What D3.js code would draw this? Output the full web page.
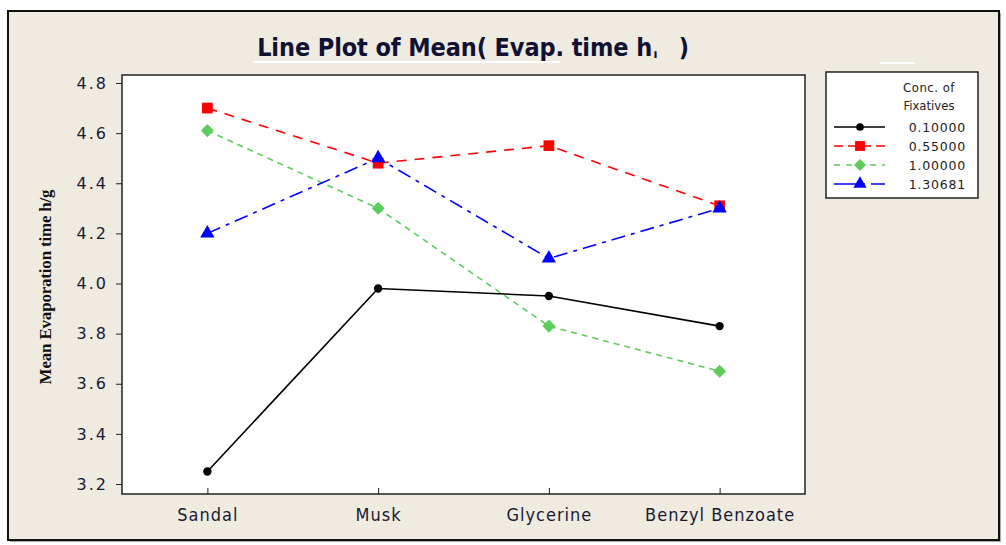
<!DOCTYPE html>
<html>
<head>
<meta charset="utf-8">
<script src="https://cdn.jsdelivr.net/npm/d3@7"></script>
<style>
  html, body { margin: 0; padding: 0; background: #fff; }
  svg { display: block; }
</style>
</head>
<body>
<div id="chart"></div>
<script>
// categories and series
const fixatives = ["Sandal", "Musk", "Glycerine", "Benzyl Benzoate"];
const concLevels = ["0.10000", "0.55000", "1.00000", "1.30681"];
const conc010 = [3.25, 3.98, 3.95, 3.83];
const conc055 = [4.70, 4.48, 4.55, 4.31];
const conc100 = [4.61, 4.30, 3.83, 3.65];
const conc131 = [4.20, 4.50, 4.10, 4.30];
const yTicks = [3.2, 3.4, 3.6, 3.8, 4.0, 4.2, 4.4, 4.6, 4.8];

const width = 1006, height = 545;
const plot = { left: 122, top: 75, right: 805, bottom: 494 };

// diamond = square turned by 45deg (d3's diamond is too narrow)
const series = [
    { name: concLevels[0], values: conc010, color: "#000000", dash: null, legendDash: null, shape: d3.symbolCircle, size: 55, rot: 0 },
    { name: concLevels[1], values: conc055, color: "#ff0000", dash: "10,8", legendDash: "9,5", shape: d3.symbolSquare, size: 115, rot: 0 },
    { name: concLevels[2], values: conc100, color: "#5ccc5c", dash: "6,5", legendDash: "6,6", shape: d3.symbolSquare, size: 85, rot: 45 },
    { name: concLevels[3], values: conc131, color: "#0000ff", dash: "14,6,4,6", legendDash: "22,5,4,6", shape: d3.symbolTriangle, size: 90, rot: 0 }
];

const svg = d3.select("#chart").append("svg")
    .attr("width", width)
    .attr("height", height);

// outer frame
svg.append("rect")
    .attr("x", 10).attr("y", 13).attr("width", 991).attr("height", 529)
    .attr("fill", "#a8a8a8");
svg.append("rect")
    .attr("x", 8).attr("y", 11).attr("width", 991).attr("height", 529)
    .attr("fill", "#efebe1").attr("stroke", "#111").attr("stroke-width", 2);

// title
svg.append("text")
    .attr("x", 473).attr("y", 56)
    .attr("text-anchor", "middle")
    .style("font", "bold 25px 'DejaVu Sans Condensed', 'DejaVu Sans', sans-serif")
    .style("letter-spacing", "-0.1px")
    .attr("fill", "#111133")
    .text("Line Plot of Mean( Evap. time h\u02cc \u2009 )");
svg.append("line")
    .attr("x1", 253).attr("x2", 560).attr("y1", 62).attr("y2", 62)
    .attr("stroke", "#fff").attr("stroke-width", 2);
svg.append("line")
    .attr("x1", 880).attr("x2", 915).attr("y1", 63).attr("y2", 63)
    .attr("stroke", "#fff").attr("stroke-width", 2);

// plot box
svg.append("rect")
    .attr("x", plot.left).attr("y", plot.top)
    .attr("width", plot.right - plot.left).attr("height", plot.bottom - plot.top)
    .attr("fill", "#fff").attr("stroke", "#222").attr("stroke-width", 1.5);

const x = d3.scalePoint()
    .domain(fixatives)
    .range([plot.left, plot.right])
    .padding(0.5);

const y = d3.scaleLinear()
    .domain([3.2, 4.8])
    .range([484, 83]);

const xAxis = svg.append("g")
    .attr("transform", `translate(0,${plot.bottom})`)
    .call(d3.axisBottom(x).tickSize(6).tickPadding(8));
xAxis.select(".domain").remove();
xAxis.selectAll("line").attr("stroke", "#222").attr("transform", "translate(0,-6)");
xAxis.selectAll("text")
    .style("font", "18px 'DejaVu Sans Condensed', 'DejaVu Sans', sans-serif")
    .style("letter-spacing", "1px")
    .attr("fill", "#1a1a33");

const yAxis = svg.append("g")
    .attr("transform", `translate(${plot.left},0)`)
    .call(d3.axisLeft(y).tickValues(yTicks).tickFormat(d3.format(".1f")).tickSize(6).tickPadding(8));
yAxis.select(".domain").remove();
yAxis.selectAll("line").attr("stroke", "#222");
yAxis.selectAll("text")
    .style("font", "16px 'DejaVu Sans', sans-serif")
    .style("letter-spacing", "2px")
    .attr("fill", "#1a1a33");

// y label
svg.append("text")
    .attr("transform", "translate(51,287) rotate(-90)")
    .attr("text-anchor", "middle")
    .style("font", "bold 17px 'Liberation Serif', serif")
    .style("letter-spacing", "-0.2px")
    .attr("fill", "#111")
    .text("Mean Evaporation time h/g");

// lines and markers
const line = d3.line()
    .x((d, i) => x(fixatives[i]))
    .y(d => y(d));

series.forEach(s => {
    svg.append("path")
        .datum(s.values)
        .attr("d", line)
        .attr("fill", "none")
        .attr("stroke", s.color)
        .attr("stroke-width", 1.6)
        .attr("stroke-dasharray", s.dash);
    svg.append("g")
        .selectAll("path")
        .data(s.values)
        .join("path")
        .attr("transform", (d, i) => `translate(${x(fixatives[i])},${y(d)}) rotate(${s.rot})`)
        .attr("d", d3.symbol().type(s.shape).size(s.size))
        .attr("fill", s.color);
});

// legend
const legend = svg.append("g");
legend.append("rect")
    .attr("x", 826).attr("y", 72).attr("width", 152).attr("height", 126)
    .attr("fill", "#fff").attr("stroke", "#222").attr("stroke-width", 1.5);
legend.append("text")
    .attr("x", 929).attr("y", 92).attr("text-anchor", "middle")
    .style("font", "13px 'DejaVu Sans Condensed', 'DejaVu Sans', sans-serif")
    .style("letter-spacing", "0.5px")
    .attr("fill", "#222").text("Conc. of");
legend.append("text")
    .attr("x", 929).attr("y", 110).attr("text-anchor", "middle")
    .style("font", "13px 'DejaVu Sans Condensed', 'DejaVu Sans', sans-serif")
    .attr("fill", "#222").text("Fixatives");

const legendY = d3.scalePoint().domain(concLevels).range([127, 184]);
series.forEach(s => {
    const ly = legendY(s.name);
    legend.append("line")
        .attr("x1", 834).attr("x2", 885).attr("y1", ly).attr("y2", ly)
        .attr("stroke", s.color).attr("stroke-width", 1.6)
        .attr("stroke-dasharray", s.legendDash);
    legend.append("path")
        .attr("transform", `translate(860,${ly}) rotate(${s.rot})`)
        .attr("d", d3.symbol().type(s.shape).size(s.size * 0.85))
        .attr("fill", s.color);
    legend.append("text")
        .attr("x", 966).attr("y", ly + 4.5).attr("text-anchor", "end")
        .style("font", "12.5px 'DejaVu Sans', sans-serif")
        .style("letter-spacing", "0.8px")
        .attr("fill", "#222").text(s.name);
});
</script>
</body>
</html>
